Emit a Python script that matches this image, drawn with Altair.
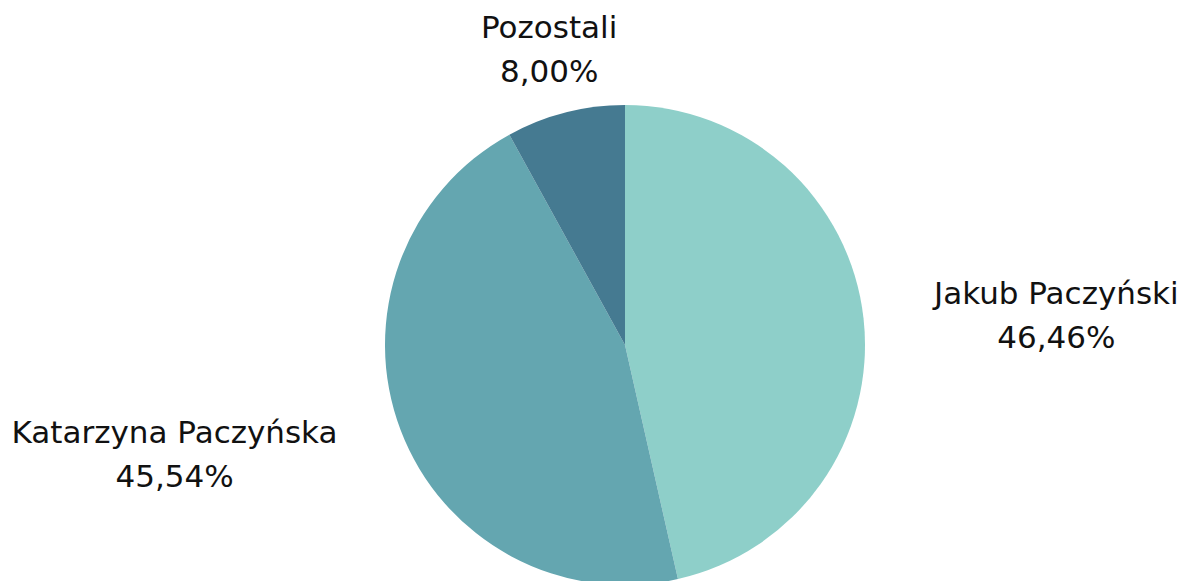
import altair as alt
import pandas as pd

names = ["Jakub Paczyński", "Katarzyna Paczyńska", "Pozostali"]
shares = [46.46, 45.54, 8.00]
colors = ["#8ECFC9", "#64A6B0", "#457A91"]
order = [0, 1, 2]

df = pd.DataFrame({"name": names, "share": shares, "ord": order})

W, H = 1173, 573
CX, CY, R = 617, 337, 240
FONT = "DejaVu Sans"
FS = 31

base = alt.Chart(df).transform_window(
    cum="sum(share)", sort=[alt.SortField("ord")]
).transform_calculate(
    start="datum.cum - datum.share",
    mid="datum.cum - datum.share / 2",
    label="[datum.name, replace(format(datum.share, '.2f'), '.', ',') + '%']",
)

theta_scale = alt.Scale(domain=[0, 100], range=[0, 6.283185307179586])

arc = base.mark_arc(stroke=None).encode(
    theta=alt.Theta("start:Q", scale=theta_scale),
    theta2="cum:Q",
    color=alt.Color("name:N", scale=alt.Scale(domain=names, range=colors), legend=None),
    x=alt.value(CX), y=alt.value(CY), radius=alt.value(R),
)

def label(name, r, dx, dy):
    return base.transform_filter(alt.datum.name == name).mark_text(
        font=FONT, fontSize=FS, color="#111111", align="center", baseline="middle",
        lineHeight=44, dx=dx, dy=dy,
    ).encode(
        theta=alt.Theta("mid:Q", scale=theta_scale),
        radius=alt.value(r),
        x=alt.value(CX), y=alt.value(CY),
        text="label:N",
    )

chart = alt.layer(
    arc,
    label("Jakub Paczyński", 434, 0, -2),
    label("Katarzyna Paczyńska", 470, -11, -78),
    label("Pozostali", 305, 0, -21),
).properties(
    width=W, height=H, padding=0, autosize=alt.AutoSizeParams(type="none")
).configure_view(stroke=None)

chart.save("out.html", embed_options={"renderer": "svg", "actions": False})
